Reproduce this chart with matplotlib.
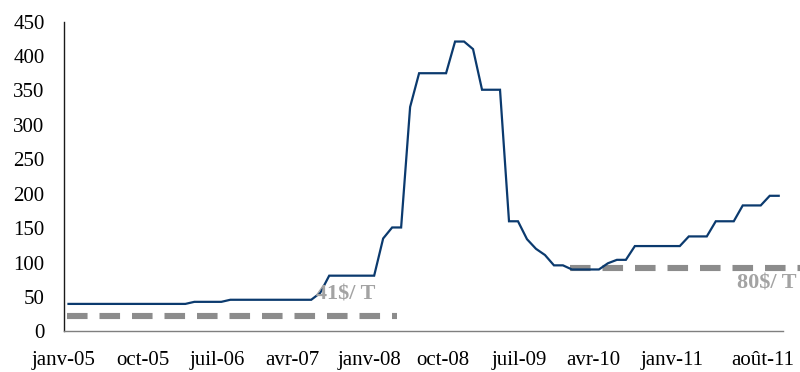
import numpy as np
import matplotlib
matplotlib.use("Agg")
import matplotlib.pyplot as plt

# Monthly price series, janv-05 .. août-11 ($/T)
prices = [
    40, 40, 40, 40, 40, 40, 40, 40, 40, 40, 40, 40, 40, 40,   # 2005 - early 2006
    43, 43, 43, 43,
    46, 46, 46, 46, 46, 46, 46, 46, 46, 46,
    56, 81, 81, 81, 81, 81, 81,
    135, 151, 151,
    326, 375, 375, 375, 375,
    421, 421, 410, 351, 351, 351,
    160, 160, 134, 120, 111, 96, 96,
    90, 90, 90, 90,
    99, 104, 104,
    124, 124, 124, 124, 124, 124,
    138, 138, 138,
    160, 160, 160,
    183, 183, 183,
    197, 197,
]

tick_labels = ["janv-05", "oct-05", "juil-06", "avr-07", "janv-08",
               "oct-08", "juil-09", "avr-10", "janv-11", "août-11"]
tick_pos = [-0.5, 8.3, 16.5, 24.9, 33.5, 41.6, 50.1, 58.4, 67.2, 77.2]

# Average-level reference bars and their captions
ref_levels = [22, 92]
ref_spans = [(-0.2, 36.5), (55.8, 81.4)]
ref_texts = ["41$/ T", "80$/ T"]
ref_text_pos = [(30.8, 53), (77.7, 69)]

plt.rcParams["font.family"] = ["Liberation Serif", "DejaVu Serif"]
plt.rcParams["lines.scale_dashes"] = False

fig = plt.figure(figsize=(8.0, 3.72), dpi=100)
ax = fig.add_axes([0.08, 0.109, 0.899, 0.833])

x = np.arange(len(prices))
ax.plot(x, prices, color="#0b3a6e", lw=1.6, solid_joinstyle="miter", zorder=3)

for lvl, (x0, x1) in zip(ref_levels, ref_spans):
    ax.plot([x0, x1], [lvl, lvl], color="#8c8c8c", lw=4.4,
            dashes=(14.8, 8.6), dash_capstyle="butt", clip_on=False, zorder=2)

for txt, (tx, ty) in zip(ref_texts, ref_text_pos):
    ax.text(tx, ty, txt, color="#a3a3a3", fontsize=16, fontweight="bold",
            ha="center", va="center", clip_on=False, zorder=4)

ax.set_xlim(-0.5, len(prices) - 0.5)
ax.set_ylim(0, 450)
ax.set_yticks(np.arange(0, 451, 50))
ax.set_xticks(tick_pos)
ax.set_xticklabels(tick_labels)

ax.tick_params(axis="both", length=0, labelsize=15, colors="black")
ax.tick_params(axis="x", pad=14)
ax.tick_params(axis="y", pad=14)

for s in ["top", "right"]:
    ax.spines[s].set_visible(False)
ax.spines["left"].set_color("#1a1a1a")
ax.spines["left"].set_linewidth(1.0)
ax.spines["bottom"].set_color("#7f7f7f")
ax.spines["bottom"].set_linewidth(1.0)

fig.savefig("out.png", dpi=100)
